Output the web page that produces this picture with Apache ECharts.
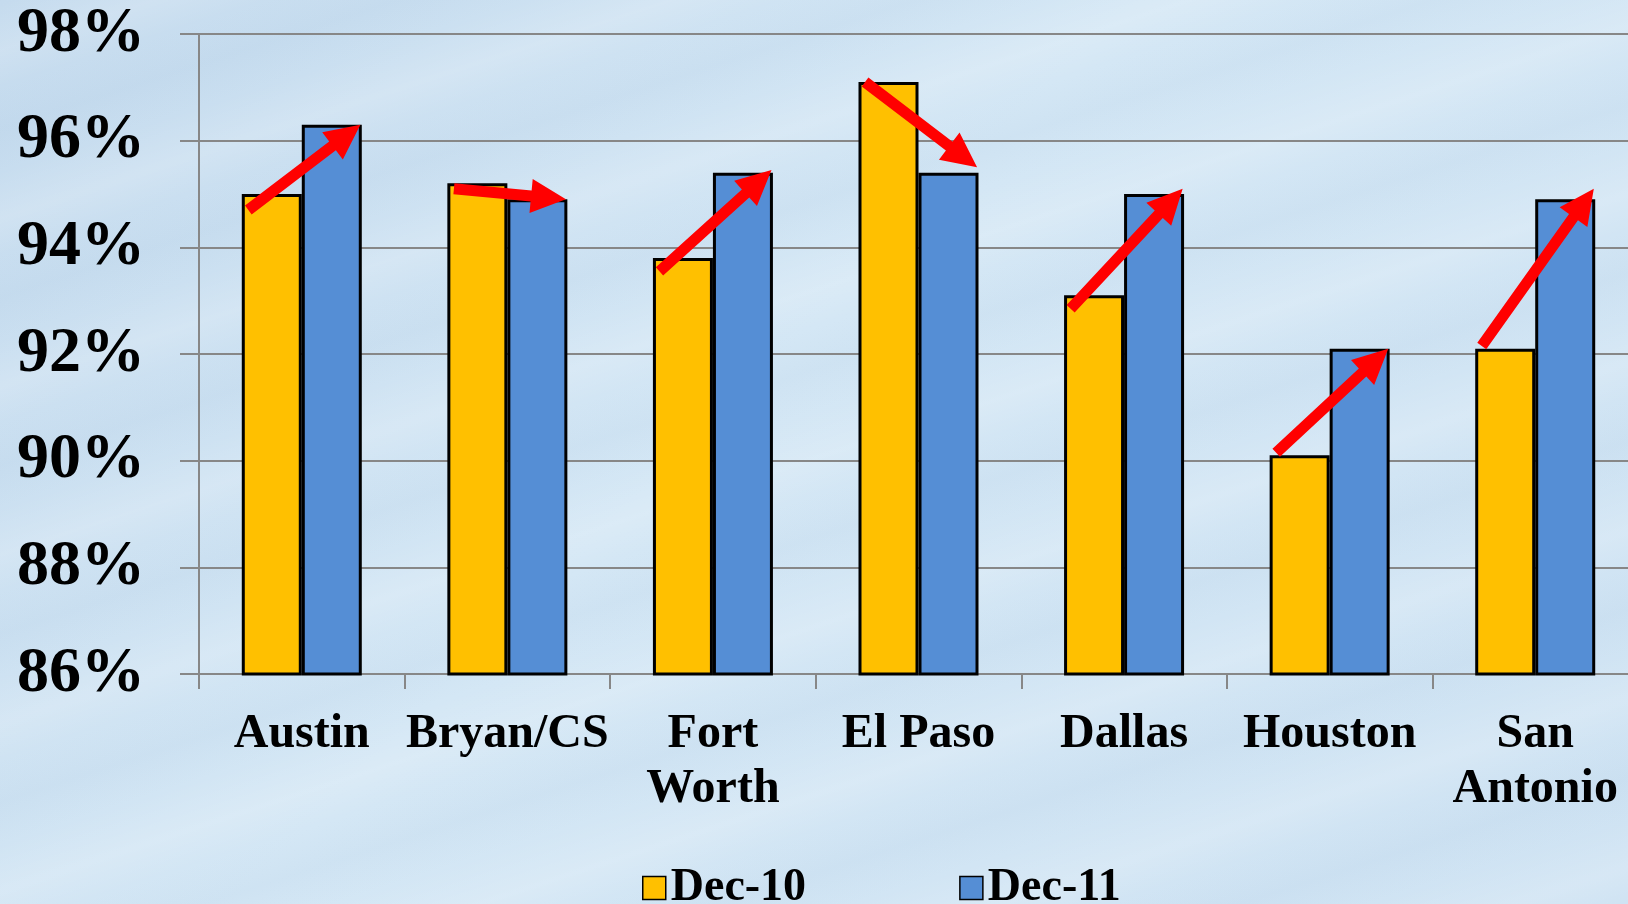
<!DOCTYPE html>
<html>
<head>
<meta charset="utf-8">
<title>Dec-10 vs Dec-11</title>
<script src="https://cdn.jsdelivr.net/npm/echarts@6/dist/echarts.min.js"></script>
<style>
    html, body {margin: 0; padding: 0;}
    body {
        width: 1628px; height: 904px; overflow: hidden;
        background:
            repeating-linear-gradient(-18deg, rgba(255,255,255,0) 0px, rgba(255,255,255,0.16) 35px, rgba(255,255,255,0) 80px, rgba(120,160,200,0.06) 120px, rgba(255,255,255,0) 160px),
            linear-gradient(135deg, #c5dbee 0%, #d4e7f5 45%, #cfe3f3 100%);
    }
    #map {width: 1628px; height: 904px;}
</style>
</head>
<body>
<div id="map"></div>
<script>
let categories = ['Austin', 'Bryan/CS', 'Fort\nWorth', 'El Paso', 'Dallas', 'Houston', 'San\nAntonio'];
let dec10 = [95.0, 95.2, 93.8, 97.1, 93.1, 90.1, 92.1];
let dec11 = [96.3, 94.9, 95.4, 95.4, 95.0, 92.1, 94.9];
// red arrows: start / end level
let arrowStart = [94.7, 95.1, 93.55, 97.1, 92.85, 90.15, 92.15];
let arrowEnd = [96.3, 94.9, 95.45, 95.5, 95.1, 92.1, 95.1];

let font = "'Liberation Serif', 'Times New Roman', serif";

let myChart = echarts.init(document.getElementById('map'), null, {renderer: 'canvas'});

function renderArrow(params, api){
    let i = api.value(0);
    let p0 = api.coord([i, api.value(1)]);
    let p1 = api.coord([i, api.value(2)]);
    let w = api.size([1, 0])[0];
    let x0 = p0[0] - w * 0.26, y0 = p0[1];
    let x1 = p1[0] + w * 0.285, y1 = p1[1];
    let dx = x1 - x0, dy = y1 - y0;
    let len = Math.sqrt(dx * dx + dy * dy);
    let ux = dx / len, uy = dy / len;
    let nx = -uy, ny = ux;
    let headLen = 35, headW = 17, shaftW = 5.5;
    let bx = x1 - ux * headLen, by = y1 - uy * headLen;
    let points = [
        [x0 + nx * shaftW, y0 + ny * shaftW],
        [bx + nx * shaftW, by + ny * shaftW],
        [bx + nx * headW, by + ny * headW],
        [x1, y1],
        [bx - nx * headW, by - ny * headW],
        [bx - nx * shaftW, by - ny * shaftW],
        [x0 - nx * shaftW, y0 - ny * shaftW]
    ];
    return {type: 'polygon', shape: {points: points}, style: {fill: '#ff0000'}};
}

let option = {
    backgroundColor: 'transparent',
    animation: false,
    grid: {
        left: 199,
        top: 34,
        width: 1439,
        height: 640,
        containLabel: false,
        outerBoundsMode: 'none'
    },
    legend: {
        data: ['Dec-10', 'Dec-11'],
        left: 637,
        top: 860,
        itemWidth: 23,
        itemHeight: 23,
        itemGap: 153,
        icon: 'rect',
        itemStyle: {borderColor: '#000', borderWidth: 1.5},
        textStyle: {fontFamily: font, fontWeight: 'bold', fontSize: 46, color: '#000'}
    },
    xAxis: {
        type: 'category',
        data: categories,
        axisLine: {lineStyle: {color: '#878787', width: 2}},
        axisTick: {show: true, length: 15, lineStyle: {color: '#878787', width: 2}},
        axisLabel: {
            interval: 0,
            margin: 33,
            color: '#000',
            fontFamily: font,
            fontWeight: 'bold',
            fontSize: 48,
            lineHeight: 55
        }
    },
    yAxis: {
        type: 'value',
        min: 86,
        max: 98,
        interval: 2,
        axisLine: {show: true, lineStyle: {color: '#878787', width: 2}},
        axisTick: {show: true, length: 19, lineStyle: {color: '#878787', width: 2}},
        splitLine: {lineStyle: {color: '#878787', width: 2}},
        axisLabel: {
            formatter: '{value}%',
            margin: 54,
            color: '#000',
            fontFamily: font,
            fontWeight: 'bold',
            fontSize: 64
        }
    },
    series: [
        {
            name: 'Dec-10',
            type: 'bar',
            data: dec10,
            barWidth: 60,
            barGap: '0%',
            itemStyle: {color: '#ffc000', borderColor: '#000', borderWidth: 3}
        },
        {
            name: 'Dec-11',
            type: 'bar',
            data: dec11,
            barWidth: 60,
            barGap: '0%',
            itemStyle: {color: '#558ed5', borderColor: '#000', borderWidth: 3}
        },
        {
            name: 'arrows',
            type: 'custom',
            renderItem: renderArrow,
            encode: {x: 0, y: [1, 2]},
            data: categories.map((c, i) => [i, arrowStart[i], arrowEnd[i]]),
            clip: false,
            silent: true,
            z: 10
        }
    ]
};
myChart.setOption(option);
</script>
</body>
</html>
